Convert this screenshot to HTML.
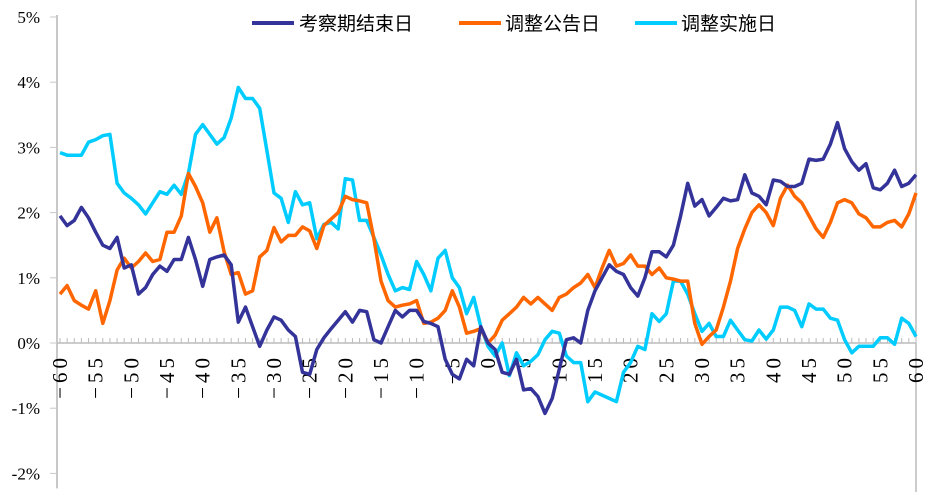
<!DOCTYPE html>
<html><head><meta charset="utf-8"><style>
body{margin:0;background:#fff;}
svg{display:block;font-family:"Liberation Serif","Noto Serif CJK SC",serif;}
</style></head><body>
<svg id="chart" width="927" height="492">
<g id="axes"></g><g id="series"></g>
<g font-family="'Liberation Sans','Noto Sans CJK SC',sans-serif" font-size="19">
<line x1="252" y1="23" x2="294" y2="23" stroke="#333399" stroke-width="4"/>
<text x="299" y="30" fill="#000">考察期结束日</text>
<line x1="459" y1="23" x2="501" y2="23" stroke="#ff6600" stroke-width="4"/>
<text x="505" y="30" fill="#000">调整公告日</text>
<line x1="635" y1="23" x2="677" y2="23" stroke="#00ccff" stroke-width="4"/>
<text x="681" y="30" fill="#000">调整实施日</text>
</g>
</svg>
<script>
const xStart = -60;
const xLabels = [-60,-55,-50,-45,-40,-35,-30,-25,-20,-15,-10,-5,0,5,10,15,20,25,30,35,40,45,50,55,60];
const yTicks = [5,4,3,2,1,0,-1,-2];
const seriesEnd = [1.95,1.8,1.88,2.08,1.92,1.7,1.5,1.45,1.62,1.15,1.2,0.75,0.85,1.05,1.18,1.1,1.28,1.28,1.62,1.28,0.87,1.28,1.32,1.35,1.2,0.32,0.55,0.25,-0.05,0.2,0.4,0.35,0.2,0.1,-0.45,-0.48,-0.1,0.08,0.22,0.35,0.48,0.32,0.5,0.48,0.05,0.0,0.25,0.5,0.4,0.5,0.5,0.33,0.3,0.25,-0.25,-0.48,-0.55,-0.25,-0.35,0.25,0.0,-0.1,-0.45,-0.48,-0.25,-0.72,-0.7,-0.82,-1.08,-0.85,-0.4,0.05,0.08,0.0,0.5,0.8,1.0,1.2,1.1,1.05,0.85,0.72,1.0,1.4,1.4,1.32,1.5,1.95,2.45,2.1,2.2,1.95,2.08,2.22,2.18,2.2,2.58,2.3,2.25,2.12,2.5,2.48,2.4,2.4,2.45,2.82,2.8,2.82,3.05,3.38,2.98,2.78,2.65,2.75,2.38,2.35,2.45,2.65,2.4,2.45,2.58];
const seriesAnnounce = [0.75,0.88,0.65,0.58,0.52,0.8,0.3,0.65,1.12,1.3,1.15,1.25,1.38,1.25,1.28,1.7,1.7,1.95,2.6,2.4,2.15,1.7,1.92,1.4,1.05,1.08,0.75,0.8,1.32,1.42,1.77,1.55,1.65,1.65,1.78,1.72,1.45,1.8,1.9,2.0,2.25,2.2,2.18,2.15,1.6,0.95,0.65,0.55,0.58,0.6,0.65,0.3,0.32,0.38,0.5,0.8,0.55,0.15,0.18,0.22,0.0,0.12,0.35,0.45,0.55,0.7,0.6,0.7,0.6,0.5,0.7,0.75,0.85,0.92,1.05,0.85,1.15,1.42,1.18,1.22,1.35,1.18,1.18,1.05,1.15,1.0,0.98,0.95,0.95,0.3,-0.02,0.1,0.2,0.55,0.95,1.45,1.75,2.0,2.12,2.0,1.8,2.22,2.42,2.25,2.15,1.95,1.75,1.62,1.85,2.15,2.2,2.15,1.98,1.92,1.78,1.78,1.85,1.88,1.78,1.98,2.3];
const seriesImplement = [2.92,2.88,2.88,2.88,3.08,3.12,3.18,3.2,2.45,2.3,2.22,2.12,1.98,2.15,2.32,2.28,2.42,2.28,2.6,3.2,3.35,3.2,3.05,3.15,3.45,3.92,3.75,3.75,3.6,2.95,2.3,2.22,1.85,2.32,2.12,2.15,1.6,1.82,1.85,1.75,2.52,2.5,1.88,1.88,1.62,1.35,1.05,0.8,0.85,0.82,1.25,1.05,0.8,1.3,1.42,1.0,0.85,0.45,0.7,0.25,-0.05,-0.2,0.0,-0.5,-0.15,-0.35,-0.28,-0.18,0.05,0.18,0.15,-0.2,-0.3,-0.3,-0.9,-0.75,-0.8,-0.85,-0.9,-0.45,-0.3,-0.05,-0.1,0.45,0.33,0.45,0.95,0.95,0.75,0.45,0.18,0.3,0.1,0.1,0.35,0.2,0.05,0.03,0.2,0.06,0.2,0.55,0.55,0.5,0.25,0.6,0.52,0.52,0.38,0.35,0.05,-0.15,-0.05,-0.05,-0.05,0.08,0.08,-0.02,0.38,0.3,0.1];

const NS='http://www.w3.org/2000/svg';
const X = v => 60 + (v + 60) * 7.133;
const Y = p => 343 - p * 65.2;
const axes = document.getElementById('axes');
const ser = document.getElementById('series');
function mk(tag, attrs, parent){const e=document.createElementNS(NS,tag);for(const k in attrs)e.setAttribute(k,attrs[k]);parent.appendChild(e);return e;}

let e = mk('line',{x1:57,y1:Y(5)-2,x2:57,y2:Y(-2)+15,stroke:'#c8c8c8','stroke-width':2},axes);


e = mk('line',{x1:916,y1:0,x2:916,y2:492,stroke:'#999','stroke-width':1},axes);


yTicks.forEach(t=>{
  const l = mk('line',{x1:50,y1:Y(t),x2:57,y2:Y(t),stroke:'#c8c8c8','stroke-width':1},axes);
  
  
  const tx = mk('text',{x:40,y:Y(t)+6,'text-anchor':'end','font-size':17,fill:'#000'},axes);
  tx.textContent = t + '%';
  
  
});
e = mk('line',{x1:57,y1:Y(0),x2:916,y2:Y(0),stroke:'#bbb','stroke-width':1.5},axes);


for(let v=-60; v<=60; v++){
  const l = mk('line',{x1:X(v),y1:Y(0)-5,x2:X(v),y2:Y(0),stroke:'#bbb','stroke-width':1},axes);
  
  
}
xLabels.forEach(v=>{
  const x=X(v)+7, y=354;
  const tx = mk('text',{x:x,y:y,'text-anchor':'end','font-size':21,fill:'#000','letter-spacing':'4',transform:`rotate(-90 ${x} ${y})`},axes);
  tx.textContent = (v<0?'−':'') + Math.abs(v);
  
  
});
function draw(data,color,name){
  const pts = data.map((p,i)=>X(xStart+i).toFixed(1)+','+Y(p).toFixed(1)).join(' ');
  const pl = mk('polyline',{points:pts,fill:'none',stroke:color,'stroke-width':3.5,'stroke-linejoin':'round'},ser);
  
  
}
draw(seriesImplement,'#00ccff','series-implement-date');
draw(seriesAnnounce,'#ff6600','series-announce-date');
draw(seriesEnd,'#333399','series-period-end');
</script>
</body></html>
